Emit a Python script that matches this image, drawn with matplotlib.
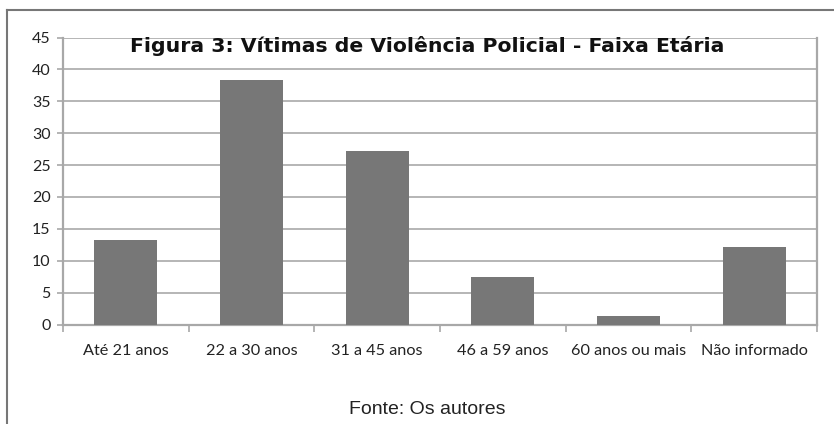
import matplotlib
matplotlib.use("Agg")
import matplotlib.pyplot as plt
from matplotlib.lines import Line2D

categories = ["Até 21 anos", "22 a 30 anos", "31 a 45 anos", "46 a 59 anos",
              "60 anos ou mais", "Não informado"]
values = [13.2, 38.4, 27.2, 7.4, 1.4, 12.1]
yticks = [0, 5, 10, 15, 20, 25, 30, 35, 40, 45]
title = "Figura 3: Vítimas de Violência Policial - Faixa Etária"
source = "Fonte: Os autores"

W, H = 834, 424
fig = plt.figure(figsize=(W / 100, H / 100), dpi=100)
fig.patch.set_facecolor("white")

# axes in pixel coords
left, right, top, bottom = 63, 817, 37.5, 324.5
ax = fig.add_axes([left / W, 1 - bottom / H, (right - left) / W, (bottom - top) / H])

x = list(range(len(categories)))
ax.bar(x, values, width=0.5, color="#777777", zorder=3)
ax.set_xlim(-0.5, len(categories) - 0.5)
ax.set_ylim(0, 45)
ax.set_yticks(yticks)
ax.set_yticklabels([str(v) for v in yticks], fontsize=11.5, family="Lato", color="#222222")
ax.yaxis.grid(True, color="#b5b5b5", linewidth=1.4, zorder=0)
ax.tick_params(axis="y", length=4, width=1.2, color="#a8a8a8", pad=5)

ax.set_xticks(x)
ax.set_xticklabels(categories, fontsize=11.7, family="Lato", color="#222222")
ax.tick_params(axis="x", length=0, pad=14)
# minor ticks at category boundaries
ax.set_xticks([i - 0.5 for i in range(len(categories) + 1)], minor=True)
ax.tick_params(axis="x", which="minor", length=5, width=1.2, color="#a8a8a8")

for s in ["left", "bottom", "right", "top"]:
    ax.spines[s].set_color("#a8a8a8")
    ax.spines[s].set_linewidth(1.6)
ax.spines["top"].set_visible(False)

# outer chart frame (top and left visible)
fig.add_artist(Line2D([7 / W, 833 / W], [1 - 10 / H, 1 - 10 / H], transform=fig.transFigure,
                      color="#777777", linewidth=1.5))
fig.add_artist(Line2D([7 / W, 7 / W], [1 - 10 / H, 0], transform=fig.transFigure,
                      color="#777777", linewidth=1.5))

fig.text(427 / W, 1 - 46.5 / H, title, ha="center", va="center", fontsize=14.7,
         fontweight="bold", family="DejaVu Sans", color="#111111")
fig.text(427 / W, 1 - 409 / H, source, ha="center", va="center", fontsize=14,
         family="Liberation Sans", color="#222222")

fig.savefig("out.png", dpi=100)
